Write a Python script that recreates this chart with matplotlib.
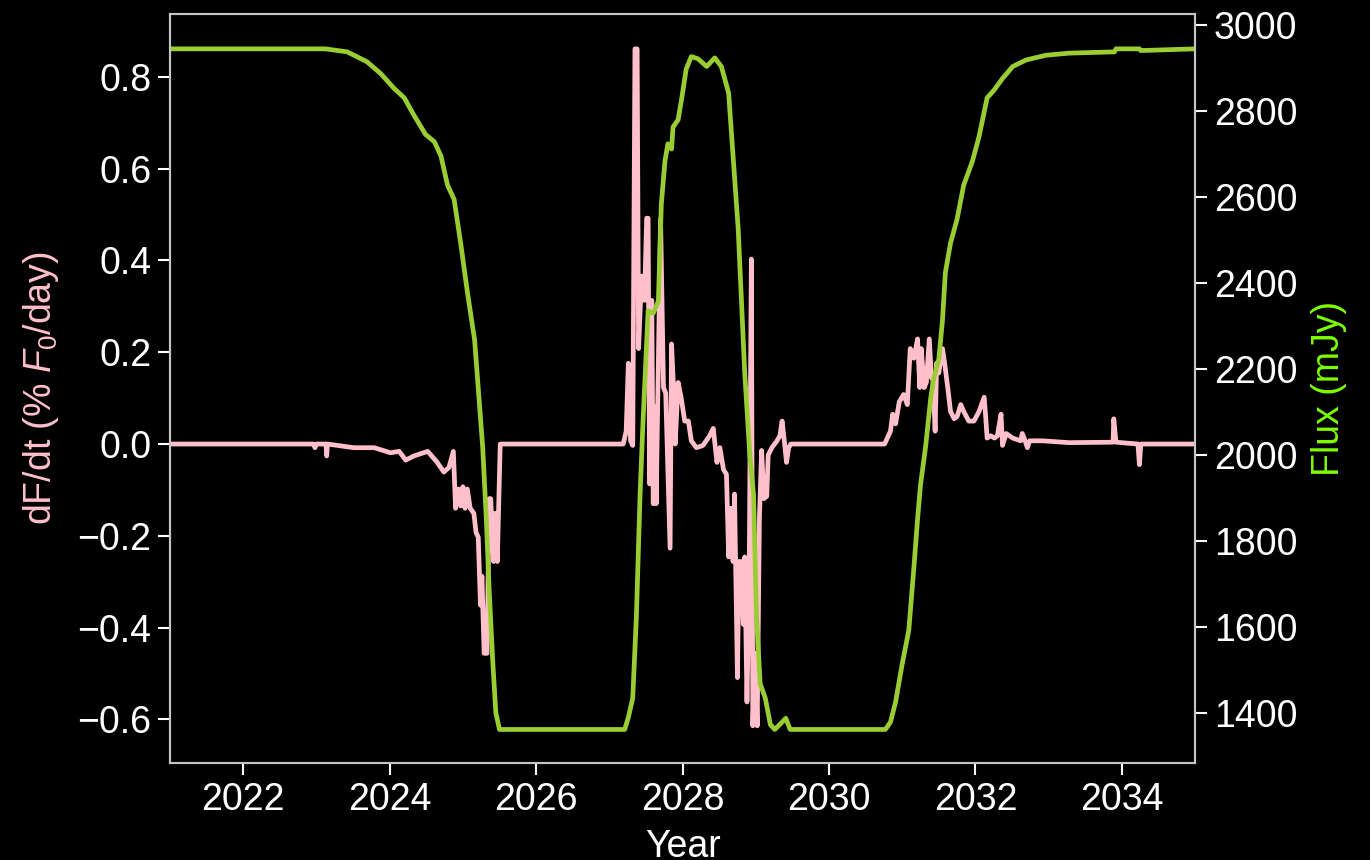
import numpy as np
import matplotlib
matplotlib.use('Agg')
import matplotlib.pyplot as plt

plt.rcParams['font.family'] = ['Liberation Sans', 'DejaVu Sans']
plt.rcParams['mathtext.fontset'] = 'custom'
plt.rcParams['mathtext.rm'] = 'Liberation Sans'
plt.rcParams['mathtext.it'] = 'Liberation Sans:italic'

# light curve flux (mJy)
flux_year = [2021.0, 2023.12, 2023.42, 2023.69, 2023.88, 2024.06, 2024.20, 2024.33, 2024.49,
             2024.61, 2024.70, 2024.79, 2024.88, 2024.97, 2025.06, 2025.16, 2025.22, 2025.27,
             2025.32, 2025.36, 2025.41, 2025.45, 2025.50, 2027.21, 2027.26, 2027.32, 2027.37,
             2027.42, 2027.46, 2027.53, 2027.60, 2027.67, 2027.71, 2027.76, 2027.80, 2027.85,
             2027.87, 2027.94, 2027.99, 2028.05, 2028.12, 2028.21, 2028.33, 2028.44, 2028.53,
             2028.63, 2028.69, 2028.76, 2028.85, 2028.92, 2028.97, 2029.01, 2029.06, 2029.13,
             2029.20, 2029.26, 2029.36, 2029.41, 2029.47, 2030.77, 2030.84, 2030.91, 2031.00,
             2031.09, 2031.16, 2031.21, 2031.25, 2031.32, 2031.39, 2031.43, 2031.50, 2031.55,
             2031.59, 2031.66, 2031.75, 2031.84, 2031.96, 2032.05, 2032.16, 2032.25, 2032.37,
             2032.51, 2032.69, 2032.96, 2033.28, 2033.90, 2033.92, 2034.24, 2034.26, 2035.0]
flux = [2945, 2945, 2938, 2915, 2887, 2853, 2831, 2791, 2746,
        2729, 2696, 2628, 2595, 2493, 2381, 2268, 2133, 2020,
        1851, 1683, 1514, 1401, 1362, 1362, 1390, 1435, 1626,
        1908, 2077, 2336, 2330, 2358, 2583, 2684, 2724, 2712,
        2763, 2780, 2831, 2898, 2927, 2922, 2904, 2924, 2904,
        2842, 2696, 2527, 2189, 1998, 1908, 1626, 1469, 1435,
        1373, 1362, 1379, 1388, 1362, 1362, 1379, 1426, 1514,
        1592, 1739, 1851, 1930, 2020, 2133, 2178, 2223, 2313,
        2425, 2493, 2549, 2628, 2684, 2741, 2831, 2848, 2876,
        2904, 2919, 2930, 2935, 2938, 2945, 2945, 2941, 2945]

# rate of change, percent of F0 per day
rate_year = [2021.0, 2022.96, 2022.98, 2023.0, 2023.13, 2023.14, 2023.15, 2023.51, 2023.79,
             2024.01, 2024.13, 2024.22, 2024.33, 2024.52, 2024.65, 2024.74, 2024.81, 2024.87,
             2024.90, 2024.94, 2024.97, 2025.00, 2025.03, 2025.06, 2025.10, 2025.15, 2025.18,
             2025.21, 2025.24, 2025.26, 2025.29, 2025.33, 2025.36, 2025.38, 2025.42, 2025.44,
             2025.47, 2025.51, 2027.19, 2027.23, 2027.26, 2027.29, 2027.32, 2027.35, 2027.38,
             2027.40, 2027.44, 2027.48, 2027.51, 2027.53, 2027.55, 2027.58, 2027.60, 2027.62,
             2027.64, 2027.68, 2027.70, 2027.74, 2027.77, 2027.79, 2027.83, 2027.85, 2027.88,
             2027.90, 2027.94, 2027.98, 2028.03, 2028.08, 2028.12, 2028.19, 2028.28, 2028.37,
             2028.42, 2028.47, 2028.51, 2028.56, 2028.60, 2028.63, 2028.66, 2028.69, 2028.71,
             2028.75, 2028.77, 2028.80, 2028.83, 2028.85, 2028.88, 2028.91, 2028.94, 2028.96,
             2028.99, 2029.02, 2029.05, 2029.08, 2029.11, 2029.15, 2029.17, 2029.22, 2029.29,
             2029.33, 2029.36, 2029.39, 2029.42, 2029.45, 2029.48, 2030.76, 2030.84, 2030.87,
             2030.91, 2030.96, 2031.02, 2031.07, 2031.11, 2031.16, 2031.21, 2031.24, 2031.26,
             2031.30, 2031.33, 2031.37, 2031.40, 2031.42, 2031.45, 2031.47, 2031.50, 2031.55,
             2031.58, 2031.63, 2031.66, 2031.71, 2031.75, 2031.80, 2031.84, 2031.91, 2031.98,
             2032.05, 2032.12, 2032.14, 2032.16, 2032.21, 2032.26, 2032.30, 2032.35, 2032.37,
             2032.42, 2032.51, 2032.62, 2032.64, 2032.68, 2032.71, 2032.74, 2032.92, 2033.28,
             2033.88, 2033.89, 2033.92, 2034.22, 2034.24, 2034.26, 2035.0]
rate = [0.0, 0.0, -0.008, 0.0, 0.0, -0.026, 0.0, -0.008, -0.008,
        -0.019, -0.016, -0.035, -0.026, -0.016, -0.04, -0.061, -0.051, -0.016,
        -0.14, -0.098, -0.135, -0.093, -0.14, -0.098, -0.14, -0.151, -0.193,
        -0.203, -0.351, -0.288, -0.456, -0.456, -0.119, -0.119, -0.256, -0.151,
        -0.256, 0.0, 0.0, 0.028, 0.176, 0.007, -0.003, 0.861, 0.861,
        0.208, 0.366, 0.313, 0.492, 0.492, -0.087, 0.313, -0.13, 0.081,
        -0.13, 0.292, 0.49, 0.123, 0.111, 0.0, -0.227, 0.218, 0.111,
        0.0, 0.134, 0.102, 0.05, 0.05, 0.007, -0.008, -0.003, 0.018,
        0.034, -0.04, -0.008, -0.056, -0.066, -0.246, -0.14, -0.256, -0.109,
        -0.509, -0.256, -0.256, -0.393, -0.246, -0.562, -0.298, 0.403, -0.614,
        -0.456, -0.614, -0.161, -0.014, -0.119, -0.114, -0.024, -0.008, 0.007,
        0.018, 0.05, 0.007, -0.04, -0.008, 0.0, 0.0, 0.028, 0.065,
        0.044, 0.092, 0.108, 0.086, 0.208, 0.187, 0.229, 0.123, 0.208,
        0.123, 0.134, 0.229, 0.144, 0.144, 0.028, 0.176, 0.155, 0.208,
        0.176, 0.113, 0.071, 0.055, 0.06, 0.086, 0.071, 0.05, 0.05,
        0.071, 0.102, 0.06, 0.013, 0.018, 0.013, 0.018, 0.065, -0.003,
        0.023, 0.013, 0.007, 0.023, 0.007, -0.008, 0.007, 0.007, 0.003,
        0.004, 0.055, 0.004, 0.0, -0.045, 0.0, 0.0]

fig = plt.figure(figsize=(13.7, 8.6), dpi=100, facecolor='black')
ax = fig.add_axes([0.1241, 0.1128, 0.7482, 0.8709], facecolor='black')
ax2 = ax.twinx()

ax.plot(rate_year, rate, color='pink', lw=3.4, zorder=2)
ax2.plot(flux_year, flux, color='yellowgreen', lw=3.4)

ax.set_xlim(2021, 2035)
ax.set_ylim(-0.695, 0.937)
ax2.set_ylim(1284, 3026)
ax.set_xticks(np.arange(2022, 2035, 2))
ax.set_yticks([-0.6, -0.4, -0.2, 0.0, 0.2, 0.4, 0.6, 0.8])
ax2.set_yticks(np.arange(1400, 3001, 200))

ax.set_xlabel('Year', color='white', fontsize=27, labelpad=8)
ax.set_ylabel('dF/dt (% $F_0$/day)', color='pink', fontsize=27, labelpad=12)
ax2.set_ylabel('Flux (mJy)', color='lawngreen', fontsize=27, labelpad=10)

for a in (ax, ax2):
    a.tick_params(colors='white', labelsize=27, length=8.5, width=1.5,
                  direction='out', pad=5)
    for sp in a.spines.values():
        sp.set_color('#c4c4c4')
        sp.set_linewidth(1.5)

fig.savefig('out.png', dpi=100, facecolor='black')
